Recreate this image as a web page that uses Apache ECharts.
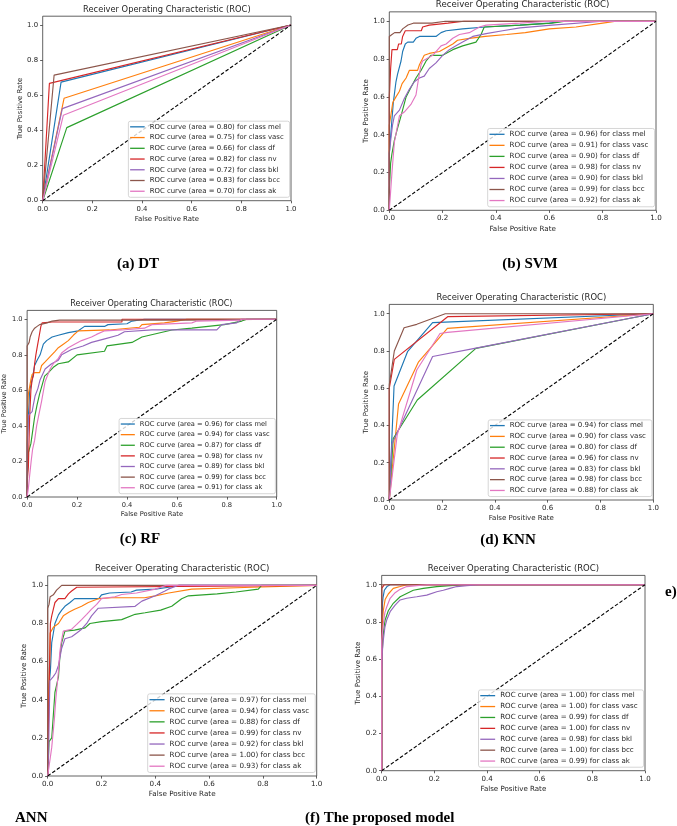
<!DOCTYPE html>
<html><head><meta charset="utf-8">
<script src="https://cdn.jsdelivr.net/npm/echarts@6/dist/echarts.min.js"></script>
<style>html,body{margin:0;padding:0;background:#fff}#c{width:677px;height:826px}</style>
</head><body><div id="c"></div>
<script>
// ---------- data ----------
const classes = ['mel','vasc','df','nv','bkl','bcc','ak'];
const classColors = ['#1f77b4','#ff7f0e','#2ca02c','#d62728','#9467bd','#8c564b','#e377c2'];
const xTicks = [0,0.2,0.4,0.6,0.8,1.0];
const yTicks = [0,0.2,0.4,0.6,0.8,1.0];
const chanceLine = [[0,0],[1,1]];

// (a) DT
const dtAuc = [0.80,0.75,0.66,0.82,0.72,0.83,0.70];
const dt_mel  = [[0,0],[0.074,0.675],[1,1]];
const dt_vasc = [[0,0],[0.086,0.583],[1,1]];
const dt_df   = [[0,0],[0.097,0.416],[1,1]];
const dt_nv   = [[0,0],[0.027,0.668],[1,1]];
const dt_bkl  = [[0,0],[0.079,0.524],[1,1]];
const dt_bcc  = [[0,0],[0.046,0.715],[1,1]];
const dt_ak   = [[0,0],[0.083,0.486],[1,1]];

// (b) SVM
const svmAuc = [0.96,0.91,0.90,0.98,0.90,0.99,0.92];
const svm_mel  = [[0,0],[0,0.3],[0.006,0.41],[0.015,0.57],[0.025,0.68],[0.031,0.72],[0.044,0.79],[0.05,0.84],[0.06,0.88],[0.069,0.89],[0.09,0.89],[0.1,0.91],[0.113,0.92],[0.175,0.92],[0.194,0.94],[0.213,0.95],[0.275,0.96],[0.36,0.97],[0.49,0.98],[0.6,0.99],[0.65,1.0],[1,1]];
const svm_vasc = [[0,0],[0,0.45],[0.013,0.57],[0.025,0.6],[0.038,0.63],[0.048,0.67],[0.063,0.7],[0.075,0.74],[0.106,0.74],[0.113,0.77],[0.131,0.82],[0.15,0.83],[0.188,0.84],[0.213,0.86],[0.238,0.88],[0.256,0.9],[0.3,0.91],[0.36,0.92],[0.44,0.93],[0.51,0.94],[0.6,0.96],[0.7,0.97],[0.8,0.99],[0.85,1.0],[1,1]];
const svm_df   = [[0,0],[0,0.1],[0.005,0.25],[0.01,0.3],[0.019,0.37],[0.03,0.43],[0.044,0.5],[0.063,0.6],[0.081,0.65],[0.1,0.7],[0.119,0.74],[0.138,0.79],[0.156,0.82],[0.2,0.82],[0.238,0.85],[0.275,0.87],[0.325,0.89],[0.344,0.93],[0.356,0.97],[0.49,0.98],[0.61,0.99],[0.66,1.0],[1,1]];
const svm_nv   = [[0,0],[0,0.6],[0.005,0.75],[0.01,0.85],[0.03,0.85],[0.035,0.88],[0.045,0.88],[0.05,0.92],[0.06,0.95],[0.12,0.95],[0.125,0.97],[0.15,0.98],[0.22,0.99],[0.28,1.0],[1,1]];
const svm_bkl  = [[0,0],[0,0.3],[0.006,0.38],[0.012,0.45],[0.019,0.5],[0.038,0.53],[0.056,0.59],[0.075,0.64],[0.094,0.68],[0.113,0.7],[0.131,0.71],[0.15,0.75],[0.175,0.78],[0.2,0.82],[0.225,0.85],[0.25,0.87],[0.275,0.89],[0.313,0.92],[0.363,0.935],[0.425,0.95],[0.49,0.965],[0.61,0.98],[0.8,1.0],[1,1]];
const svm_bcc  = [[0,0],[0,0.92],[0.01,0.93],[0.02,0.94],[0.04,0.94],[0.05,0.96],[0.07,0.98],[0.09,0.99],[0.16,0.99],[0.21,1.0],[1,1]];
const svm_ak   = [[0,0],[0.005,0.1],[0.01,0.2],[0.019,0.36],[0.038,0.5],[0.056,0.52],[0.081,0.56],[0.1,0.61],[0.11,0.7],[0.119,0.77],[0.125,0.79],[0.138,0.8],[0.163,0.82],[0.175,0.84],[0.194,0.87],[0.213,0.88],[0.238,0.91],[0.263,0.93],[0.3,0.94],[0.338,0.97],[0.363,0.98],[0.49,0.99],[0.6,1.0],[1,1]];

// (c) RF
const rfAuc = [0.96,0.94,0.87,0.98,0.89,0.99,0.91];
const rf_mel  = [[0,0],[0,0.3],[0.005,0.45],[0.01,0.6],[0.02,0.66],[0.03,0.74],[0.04,0.77],[0.052,0.8],[0.065,0.86],[0.078,0.88],[0.1,0.9],[0.125,0.91],[0.165,0.925],[0.205,0.935],[0.23,0.96],[0.31,0.96],[0.324,0.97],[0.4,0.975],[0.42,0.99],[0.47,1.0],[1,1]];
const rf_vasc = [[0,0],[0,0.46],[0.005,0.58],[0.01,0.62],[0.015,0.66],[0.02,0.69],[0.03,0.7],[0.05,0.7],[0.058,0.74],[0.072,0.76],[0.092,0.79],[0.112,0.82],[0.125,0.84],[0.145,0.86],[0.165,0.88],[0.185,0.91],[0.205,0.935],[0.33,0.94],[0.33,0.95],[0.45,0.955],[0.46,0.97],[0.55,0.98],[0.6,0.99],[0.64,1.0],[1,1]];
const rf_df   = [[0,0],[0,0.1],[0.005,0.25],[0.015,0.3],[0.02,0.35],[0.03,0.45],[0.04,0.52],[0.05,0.58],[0.06,0.63],[0.07,0.68],[0.085,0.7],[0.105,0.73],[0.125,0.75],[0.165,0.76],[0.2,0.8],[0.31,0.82],[0.32,0.85],[0.42,0.87],[0.46,0.9],[0.52,0.92],[0.58,0.94],[0.66,0.95],[0.79,0.97],[0.86,0.99],[0.88,1.0],[1,1]];
const rf_nv   = [[0,0],[0,0.08],[0.005,0.17],[0.01,0.45],[0.015,0.6],[0.02,0.66],[0.025,0.68],[0.03,0.75],[0.035,0.8],[0.04,0.84],[0.045,0.88],[0.05,0.92],[0.055,0.96],[0.06,0.98],[0.1,0.985],[0.38,0.985],[0.38,1.0],[1,1]];
const rf_bkl  = [[0,0],[0,0.25],[0.005,0.46],[0.02,0.48],[0.025,0.52],[0.032,0.57],[0.043,0.61],[0.052,0.66],[0.072,0.72],[0.098,0.75],[0.125,0.77],[0.138,0.8],[0.178,0.83],[0.224,0.85],[0.258,0.87],[0.311,0.89],[0.364,0.91],[0.39,0.93],[0.5,0.94],[0.76,0.94],[0.78,0.97],[0.84,0.98],[0.86,1.0],[1,1]];
const rf_bcc  = [[0,0],[0,0.76],[0,0.85],[0.008,0.87],[0.012,0.9],[0.02,0.93],[0.03,0.95],[0.04,0.96],[0.05,0.97],[0.08,0.98],[0.1,0.99],[0.13,0.995],[0.64,0.995],[0.64,1.0],[1,1]];
const rf_ak   = [[0,0],[0.005,0.05],[0.01,0.12],[0.016,0.2],[0.022,0.27],[0.03,0.32],[0.038,0.4],[0.045,0.45],[0.058,0.54],[0.072,0.65],[0.092,0.72],[0.105,0.75],[0.125,0.78],[0.138,0.81],[0.165,0.84],[0.19,0.86],[0.218,0.88],[0.258,0.9],[0.278,0.915],[0.311,0.935],[0.38,0.94],[0.47,0.95],[0.5,0.97],[0.66,0.98],[0.68,0.99],[0.85,0.995],[0.86,1.0],[1,1]];

// (d) KNN
const knnAuc = [0.94,0.90,0.80,0.96,0.83,0.98,0.88];
const knn_mel  = [[0,0],[0.018,0.612],[0.069,0.796],[0.164,0.952],[1,1]];
const knn_vasc = [[0,0],[0.035,0.515],[0.111,0.742],[0.22,0.921],[1,1]];
const knn_df   = [[0,0],[0.015,0.33],[0.106,0.537],[0.328,0.814],[1,1]];
const knn_nv   = [[0,0],[0,0.6],[0.019,0.755],[0.221,0.984],[1,1]];
const knn_bkl  = [[0,0],[0.01,0.3],[0.164,0.77],[0.328,0.815],[1,1]];
const knn_bcc  = [[0,0],[0,0.62],[0.019,0.8],[0.056,0.925],[0.104,0.943],[0.212,1.0],[1,1]];
const knn_ak   = [[0,0],[0.03,0.35],[0.104,0.698],[0.192,0.894],[0.22,0.9],[1,1]];

// ANN
const annAuc = [0.97,0.94,0.88,0.99,0.92,1.00,0.93];
const ann_mel  = [[0,0],[0,0.3],[0.005,0.48],[0.01,0.55],[0.015,0.7],[0.021,0.75],[0.027,0.8],[0.04,0.845],[0.052,0.87],[0.064,0.89],[0.083,0.91],[0.1,0.93],[0.19,0.93],[0.2,0.95],[0.23,0.96],[0.31,0.965],[0.33,0.975],[0.4,0.98],[0.45,0.99],[0.49,1.0],[1,1]];
const ann_vasc = [[0,0],[0,0.3],[0.005,0.5],[0.008,0.65],[0.009,0.75],[0.021,0.78],[0.04,0.8],[0.058,0.84],[0.08,0.86],[0.1,0.875],[0.126,0.89],[0.151,0.91],[0.188,0.93],[0.238,0.935],[0.36,0.935],[0.4,0.945],[0.45,0.96],[0.535,0.98],[0.76,0.99],[0.765,1.0],[1,1]];
const ann_df   = [[0,0],[0.005,0.18],[0.015,0.2],[0.02,0.3],[0.027,0.44],[0.04,0.52],[0.045,0.62],[0.052,0.7],[0.064,0.76],[0.1,0.765],[0.139,0.777],[0.157,0.8],[0.2,0.81],[0.275,0.82],[0.325,0.848],[0.362,0.856],[0.42,0.87],[0.461,0.89],[0.498,0.93],[0.523,0.945],[0.63,0.955],[0.7,0.965],[0.783,0.98],[0.795,1.0],[1,1]];
const ann_nv   = [[0,0],[0,0.05],[0.005,0.45],[0.008,0.65],[0.01,0.8],[0.015,0.84],[0.021,0.875],[0.027,0.91],[0.04,0.93],[0.064,0.93],[0.077,0.955],[0.089,0.97],[0.108,0.99],[0.114,1.0],[1,1]];
const ann_bkl  = [[0,0],[0.003,0.1],[0.008,0.5],[0.02,0.52],[0.03,0.54],[0.04,0.58],[0.052,0.67],[0.064,0.72],[0.089,0.73],[0.108,0.75],[0.126,0.77],[0.145,0.8],[0.163,0.84],[0.188,0.88],[0.325,0.89],[0.35,0.917],[0.4,0.945],[0.436,0.97],[0.448,0.98],[0.486,1.0],[1,1]];
const ann_bcc  = [[0,0],[0,0.88],[0.005,0.9],[0.009,0.94],[0.021,0.95],[0.033,0.975],[0.052,1.0],[1,1]];
const ann_ak   = [[0,0],[0.005,0.05],[0.015,0.15],[0.025,0.3],[0.03,0.4],[0.04,0.55],[0.045,0.65],[0.05,0.7],[0.058,0.76],[0.089,0.77],[0.108,0.795],[0.126,0.82],[0.145,0.848],[0.163,0.875],[0.182,0.9],[0.2,0.93],[0.25,0.94],[0.275,0.952],[0.33,0.96],[0.4,0.98],[0.42,0.99],[0.44,1.0],[1,1]];

// (f) The proposed model
const propAuc = [1.00,1.00,0.99,1.00,0.98,1.00,0.99];
const prop_mel  = [[0,0],[0,0.6],[0.003,0.9],[0.005,0.93],[0.01,0.97],[0.02,0.99],[0.032,1.0],[1,1]];
const prop_vasc = [[0,0],[0,0.65],[0.003,0.8],[0.006,0.86],[0.013,0.92],[0.025,0.95],[0.044,0.98],[0.07,0.99],[0.095,1.0],[1,1]];
const prop_df   = [[0,0],[0,0.55],[0.004,0.7],[0.008,0.76],[0.013,0.81],[0.025,0.86],[0.044,0.9],[0.07,0.935],[0.095,0.953],[0.12,0.97],[0.158,0.98],[0.209,0.99],[0.26,0.995],[0.32,1.0],[1,1]];
const prop_nv   = [[0,0],[0,0.98],[0.005,0.99],[0.01,1.0],[1,1]];
const prop_bkl  = [[0,0],[0,0.5],[0.003,0.65],[0.006,0.7],[0.012,0.77],[0.019,0.81],[0.032,0.855],[0.051,0.89],[0.07,0.918],[0.095,0.927],[0.133,0.935],[0.171,0.944],[0.209,0.962],[0.234,0.97],[0.259,0.98],[0.285,0.99],[0.323,0.995],[0.373,1.0],[1,1]];
const prop_bcc  = [[0,0],[0,1.0],[1,1]];
const prop_ak   = [[0,0],[0,0.7],[0.006,0.79],[0.012,0.85],[0.019,0.88],[0.032,0.927],[0.051,0.957],[0.07,0.975],[0.095,0.99],[0.133,0.995],[0.171,1.0],[1,1]];

// ---------- layout ----------
const W = 677, H = 826;
const FONT = "'DejaVu Sans', sans-serif";
const SERIF = "'Liberation Serif', 'Times New Roman', serif";
const TXT = '#262626';
const FRAME = '#3a3a3a';

const panels = [
  {auc: dtAuc,  curves: [dt_mel,dt_vasc,dt_df,dt_nv,dt_bkl,dt_bcc,dt_ak],             box: [42.7, 16.2, 248.3, 184.5], f: 6.92},
  {auc: svmAuc, curves: [svm_mel,svm_vasc,svm_df,svm_nv,svm_bkl,svm_bcc,svm_ak],      box: [389.3, 11.85, 266.7, 198.45], f: 7.17},
  {auc: rfAuc,  curves: [rf_mel,rf_vasc,rf_df,rf_nv,rf_bkl,rf_bcc,rf_ak],             box: [26, 310.4, 250.7, 186.6], f: 6.7},
  {auc: knnAuc, curves: [knn_mel,knn_vasc,knn_df,knn_nv,knn_bkl,knn_bcc,knn_ak],      box: [389.3, 304.4, 264, 195.6], f: 7.02},
  {auc: annAuc, curves: [ann_mel,ann_vasc,ann_df,ann_nv,ann_bkl,ann_bcc,ann_ak],      box: [47.7, 575.8, 269, 200.2], f: 7.2},
  {auc: propAuc,curves: [prop_mel,prop_vasc,prop_df,prop_nv,prop_bkl,prop_bcc,prop_ak], box: [381.7, 575.4, 263.3, 195.3], f: 7.08}
];

const captions = [
  {text: '(a) DT',  x: 138, y: 264, align: 'center'},
  {text: '(b) SVM', x: 530, y: 264, align: 'center'},
  {text: '(c) RF',  x: 140, y: 539, align: 'center'},
  {text: '(d) KNN', x: 508, y: 540, align: 'center'},
  {text: 'e)',      x: 665, y: 592, align: 'left'},
  {text: 'ANN',     x: 15,  y: 818, align: 'left'},
  {text: '(f) The proposed model', x: 305, y: 818, align: 'left'}
];

const grid = [], xAxis = [], yAxis = [], series = [], legend = [], graphic = [];
const fmt = v => v.toFixed(1);

panels.forEach((p, i) => {
  const [L, T, Wd, Ht] = p.box;
  const f = p.f;
  grid.push({left: L, top: T, width: Wd, height: Ht, show: true,
    borderColor: FRAME, borderWidth: 0.8, backgroundColor: 'transparent'});
  const tick = {show: true, inside: false, length: 2.6, lineStyle: {color: FRAME, width: 0.8}};
  xAxis.push({type: 'value', gridIndex: i, min: 0, max: 1, interval: 0.2,
    axisLine: {show: false}, splitLine: {show: false},
    axisTick: Object.assign({customValues: xTicks}, tick),
    axisLabel: {customValues: xTicks, formatter: fmt, fontSize: f, color: TXT, fontFamily: FONT, margin: 4.6},
    name: 'False Positive Rate', nameLocation: 'middle', nameGap: 2.1 * f,
    nameTextStyle: {fontSize: f, color: TXT, fontFamily: FONT}});
  yAxis.push({type: 'value', gridIndex: i, min: 0, max: 1.05,
    axisLine: {show: false}, splitLine: {show: false},
    axisTick: Object.assign({customValues: yTicks}, tick),
    axisLabel: {customValues: yTicks, formatter: fmt, fontSize: f, color: TXT, fontFamily: FONT, margin: 4.6},
    name: 'True Positive Rate', nameLocation: 'middle', nameGap: 2.7 * f, nameRotate: 90,
    nameTextStyle: {fontSize: f, color: TXT, fontFamily: FONT}});
  const names = [];
  classes.forEach((c, k) => {
    const nm = 'ROC curve (area = ' + p.auc[k].toFixed(2) + ') for class ' + c;
    names.push(nm);
    series.push({type: 'line', name: nm, xAxisIndex: i, yAxisIndex: i, data: p.curves[k],
      symbol: 'none', showSymbol: false, color: classColors[k],
      lineStyle: {color: classColors[k], width: 1.15}, silent: true, z: 2});
  });
  series.push({type: 'line', name: 'chance' + i, xAxisIndex: i, yAxisIndex: i, data: chanceLine,
    symbol: 'none', color: '#000', lineStyle: {color: '#000', width: 1.1, type: [3.6, 2]}, silent: true, z: 3});
  legend.push({data: names, orient: 'vertical', selectedMode: false, icon: 'rect',
    right: W - (L + Wd) + 0.2 * f, bottom: H - (T + Ht) + 0.49 * f,
    itemWidth: 2.1 * f, itemHeight: 1.3, itemGap: 0.54 * f,
    padding: [0.31 * f, 0.85 * f, 0.37 * f, 0.25 * f],
    backgroundColor: 'rgba(255,255,255,0.8)', borderColor: '#cccccc', borderWidth: 0.8, borderRadius: 2,
    textStyle: {fontSize: f, lineHeight: f, color: TXT, fontFamily: FONT}});
  graphic.push({type: 'text', x: L + Wd / 2, y: T - 0.96 * f, silent: true,
    style: {text: 'Receiver Operating Characteristic (ROC)', fontSize: 1.2 * f, fontFamily: FONT, fill: TXT,
      align: 'center', verticalAlign: 'middle', textAlign: 'center', textVerticalAlign: 'middle'}});
});

captions.forEach(c => {
  graphic.push({type: 'text', x: c.x, y: c.y, silent: true,
    style: {text: c.text, fontSize: 15, fontWeight: 'bold', fontFamily: SERIF, fill: '#000',
      align: c.align, verticalAlign: 'middle', textAlign: c.align, textVerticalAlign: 'middle'}});
});

const chart = echarts.init(document.getElementById('c'), null, {renderer: 'canvas'});
chart.setOption({animation: false, backgroundColor: '#fff', grid, xAxis, yAxis, series, legend, graphic});
</script></body></html>
